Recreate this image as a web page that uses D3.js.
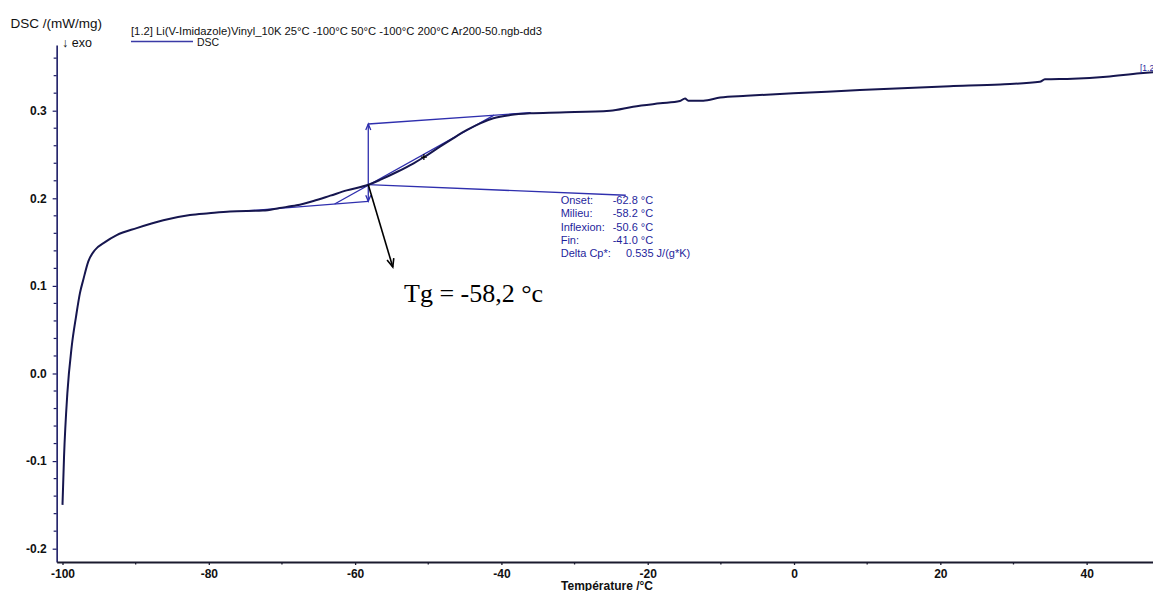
<!DOCTYPE html>
<html>
<head>
<meta charset="utf-8">
<script src="https://cdn.jsdelivr.net/npm/d3@7"></script>
<style>
  html, body { margin: 0; padding: 0; background: #fff; }
  svg { display: block; }
</style>
</head>
<body>
<svg id="chart" width="1153" height="591" font-family="Liberation Sans, Arial, sans-serif"></svg>
<script>
// DSC heating trace (temperature in °C, heat flow in mW/mg)
const temperature = [
  -100.0, -99.79, -99.34, -98.74, -98.15, -97.61, -97.16, -96.47, -95.56, -94.19,
  -92.59, -89.86, -86.22, -82.57, -80.0, -77.1, -72.6, -70.3, -68.0, -65.7,
  -63.4, -61.15, -58.2, -56.6, -54.3, -52.0, -50.4, -48.4, -46.6, -44.7,
  -42.9, -41.1, -38.8, -36.1, -32.0, -25.15, -22.0, -18.3, -15.6, -14.9,
  -14.45, -12.4, -10.1, -6.5, -0.1, 4.5, 9.0, 21.3, 28.2, 33.6,
  34.3, 38.1, 42.7, 47.3, 49.1
];
const heatFlow = [
  -0.150, -0.095, -0.023, 0.031, 0.065, 0.092, 0.107, 0.128, 0.141, 0.150,
  0.158, 0.166, 0.175, 0.181, 0.183, 0.185, 0.186, 0.189, 0.192, 0.197,
  0.203, 0.209, 0.2155, 0.221, 0.230, 0.240, 0.248, 0.259, 0.2685, 0.278,
  0.2856, 0.2913, 0.295, 0.297, 0.298, 0.300, 0.3046, 0.3084, 0.311, 0.314,
  0.3114, 0.3114, 0.315, 0.317, 0.320, 0.3217, 0.3236, 0.328, 0.330, 0.333,
  0.3358, 0.3365, 0.3388, 0.3427, 0.3438
];

// Axis ticks
const xMajorTicks = [-100, -80, -60, -40, -20, 0, 20, 40];
const xMinorTicks = [-90, -70, -50, -30, -10, 10, 30];
const yMajorTicks = [-0.2, -0.1, 0.0, 0.1, 0.2, 0.3];
const yMinorTicks = [-0.18, -0.16, -0.14, -0.12, -0.08, -0.06, -0.04, -0.02,
  0.02, 0.04, 0.06, 0.08, 0.12, 0.14, 0.16, 0.18, 0.22, 0.24, 0.26, 0.28, 0.32, 0.34, 0.36];

// Glass transition evaluation
const glassLabels = ["Onset:", "Milieu:", "Inflexion:", "Fin:"];
const glassTemps = [-62.8, -58.2, -50.6, -41.0];
const deltaCp = 0.535;
// Extrapolated baselines before / after the step: [temperature, heat flow]
const lowerBaseline = [[-75.0, 0.1855], [-58.2, 0.1965]];
const upperBaseline = [[-58.2, 0.2848], [-36.0, 0.2978]];
const leaderEnd = [-23.0, 0.2035];
const tgArrowEnd = [-54.85, 0.1215];

const legendTitle = "[1.2] Li(V-Imidazole)Vinyl_10K 25°C -100°C 50°C -100°C 200°C Ar200-50.ngb-dd3";

const svg = d3.select("#chart");
svg.append("rect").attr("width", 1153).attr("height", 591).attr("fill", "#fff");

const x = d3.scaleLinear().domain([-100.8, 49.1]).range([56.65, 1153.2]);
const y = d3.scaleLinear().domain([-0.2152, 0.375]).range([562, 45]);

const navy = "#1c1c66";
const blue = "#2f2fae";
const textBlue = "#1f1f9c";
const sans = "Liberation Sans, Arial, sans-serif";

// ---- Axes ----
const yAxis = svg.append("g").attr("transform", `translate(${x(-100.8)},0)`)
  .call(d3.axisLeft(y).tickValues(yMajorTicks).tickSize(4).tickSizeOuter(0).tickPadding(6)
    .tickFormat(d => d.toFixed(1)));
yAxis.select(".domain").attr("stroke", navy).attr("stroke-width", 1.6);
yAxis.selectAll(".tick line").attr("stroke", navy).attr("stroke-width", 1.2);
yAxis.selectAll(".tick text").attr("font-size", 12).attr("font-weight", "bold").attr("fill", "#111")
  .attr("font-family", sans);
svg.append("g").selectAll("line").data(yMinorTicks).join("line")
  .attr("x1", x(-100.8) - 3).attr("x2", x(-100.8))
  .attr("y1", d => y(d)).attr("y2", d => y(d))
  .attr("stroke", navy).attr("stroke-width", 1.2);

const xAxis = svg.append("g").attr("transform", `translate(0,${y(-0.2152)})`)
  .call(d3.axisBottom(x).tickValues(xMajorTicks).tickSize(3).tickSizeOuter(0).tickPadding(4)
    .tickFormat(d => String(d)));
xAxis.select(".domain").attr("stroke", "#1a1a2e").attr("stroke-width", 2.2);
xAxis.selectAll(".tick line").attr("stroke", "#1a1a2e").attr("stroke-width", 1.3);
xAxis.selectAll(".tick text").attr("font-size", 12).attr("font-weight", "bold").attr("fill", "#111")
  .attr("font-family", sans);
svg.append("g").selectAll("line").data(xMinorTicks).join("line")
  .attr("x1", d => x(d)).attr("x2", d => x(d))
  .attr("y1", y(-0.2152)).attr("y2", y(-0.2152) + 2.5)
  .attr("stroke", "#1a1a2e").attr("stroke-width", 1.3);

svg.append("text").attr("x", 607).attr("y", 589.5).attr("text-anchor", "middle")
  .attr("font-size", 12).attr("font-weight", "bold").attr("fill", "#111")
  .text("Température /°C");

svg.append("text").attr("x", 10.5).attr("y", 28).attr("font-size", 13.5).attr("fill", "#111")
  .text("DSC /(mW/mg)");
svg.append("text").attr("x", 62).attr("y", 47).attr("font-size", 12.5).attr("fill", "#111")
  .text("↓ exo");

// ---- Legend ----
svg.append("text").attr("x", 131).attr("y", 34.5).attr("font-size", 10.5).attr("fill", "#111")
  .attr("textLength", 411).attr("lengthAdjust", "spacingAndGlyphs")
  .text(legendTitle);
svg.append("line").attr("x1", 131).attr("x2", 193).attr("y1", 41.5).attr("y2", 41.5)
  .attr("stroke", "#3a3aa6").attr("stroke-width", 1.4);
svg.append("text").attr("x", 197).attr("y", 46).attr("font-size", 10.5).attr("fill", "#111")
  .text("DSC");

// ---- Glass transition construction ----
const lineAt = (seg, t) => {
  const [[t0, v0], [t1, v1]] = seg;
  return v0 + (v1 - v0) * (t - t0) / (t1 - t0);
};
const [tOnset, tMid, tInfl, tEnd] = glassTemps;
const cons = svg.append("g").attr("stroke", blue).attr("stroke-width", 1.3).attr("fill", "none");

cons.append("line")
  .attr("x1", x(lowerBaseline[0][0])).attr("y1", y(lowerBaseline[0][1]))
  .attr("x2", x(lowerBaseline[1][0])).attr("y2", y(lowerBaseline[1][1]));
cons.append("line")
  .attr("x1", x(upperBaseline[0][0])).attr("y1", y(upperBaseline[0][1]))
  .attr("x2", x(upperBaseline[1][0])).attr("y2", y(upperBaseline[1][1]));
// tangent through the inflection, from onset to end
cons.append("line")
  .attr("x1", x(tOnset)).attr("y1", y(lineAt(lowerBaseline, tOnset)))
  .attr("x2", x(tEnd)).attr("y2", y(lineAt(upperBaseline, tEnd)));
// step height at the midpoint
const vx = x(tMid), vTop = y(lineAt(upperBaseline, tMid)), vBot = y(lineAt(lowerBaseline, tMid));
cons.append("line").attr("x1", vx).attr("x2", vx).attr("y1", vTop).attr("y2", vBot);
cons.append("path").attr("d", `M${vx - 2.5},${vTop + 6}L${vx},${vTop}L${vx + 2.5},${vTop + 6}`);
cons.append("path").attr("d", `M${vx - 2.5},${vBot - 6}L${vx},${vBot}L${vx + 2.5},${vBot - 6}`);
// leader to the result table
const midValue = lineAt([[temperature[21], heatFlow[21]], [temperature[22], heatFlow[22]]], tMid);
cons.append("line").attr("x1", vx).attr("y1", y(midValue))
  .attr("x2", x(leaderEnd[0])).attr("y2", y(leaderEnd[1]));

// ---- DSC curve ----
const pts = temperature.map((t, i) => [t, heatFlow[i]]);
svg.append("path").datum(pts)
  .attr("fill", "none").attr("stroke", "#16164f").attr("stroke-width", 2)
  .attr("stroke-linejoin", "round")
  .attr("d", d3.line().x(d => x(d[0])).y(d => y(d[1])).curve(d3.curveMonotoneX));

// inflection marker
const inflIdx = temperature.findIndex(t => t > tInfl);
const inflValue = lineAt([[temperature[inflIdx - 1], heatFlow[inflIdx - 1]], [temperature[inflIdx], heatFlow[inflIdx]]], tInfl);
svg.append("path")
  .attr("d", `M${x(tInfl) - 3},${y(inflValue)}h6M${x(tInfl)},${y(inflValue) - 3}v6`)
  .attr("stroke", "#000").attr("stroke-width", 1.2);

// ---- Result table ----
const table = svg.append("g").attr("font-size", 11).attr("fill", textBlue);
const rowY = [204, 217.3, 230.6, 243.6, 256.7];
glassLabels.forEach((lab, i) => {
  table.append("text").attr("x", 560.7).attr("y", rowY[i]).text(lab);
  table.append("text").attr("x", 612.7).attr("y", rowY[i]).text(glassTemps[i].toFixed(1) + " °C");
});
table.append("text").attr("x", 560.7).attr("y", rowY[4]).text("Delta Cp*:");
table.append("text").attr("x", 626).attr("y", rowY[4]).text(deltaCp.toFixed(3) + " J/(g*K)");

svg.append("text").attr("x", 1140).attr("y", 70.5).attr("font-size", 8.5).attr("fill", textBlue)
  .text("[1.2]");

// ---- Tg arrow and label ----
const ax0 = x(tMid), ay0 = y(midValue), ax1 = x(tgArrowEnd[0]), ay1 = y(tgArrowEnd[1]);
const ang = Math.atan2(ay1 - ay0, ax1 - ax0);
const head = 9, spread = 0.4;
svg.append("line").attr("x1", ax0).attr("y1", ay0).attr("x2", ax1).attr("y2", ay1)
  .attr("stroke", "#000").attr("stroke-width", 1.6);
svg.append("path")
  .attr("d", `M${ax1 - head * Math.cos(ang - spread)},${ay1 - head * Math.sin(ang - spread)}` +
             `L${ax1},${ay1}` +
             `L${ax1 - head * Math.cos(ang + spread)},${ay1 - head * Math.sin(ang + spread)}`)
  .attr("fill", "none").attr("stroke", "#000").attr("stroke-width", 1.6);

svg.append("text").attr("x", 404).attr("y", 302)
  .attr("font-family", "Liberation Serif, 'Times New Roman', serif").attr("font-size", 26).attr("fill", "#000")
  .text("Tg = " + tMid.toFixed(1).replace(".", ",") + " °c");
</script>
</body>
</html>
